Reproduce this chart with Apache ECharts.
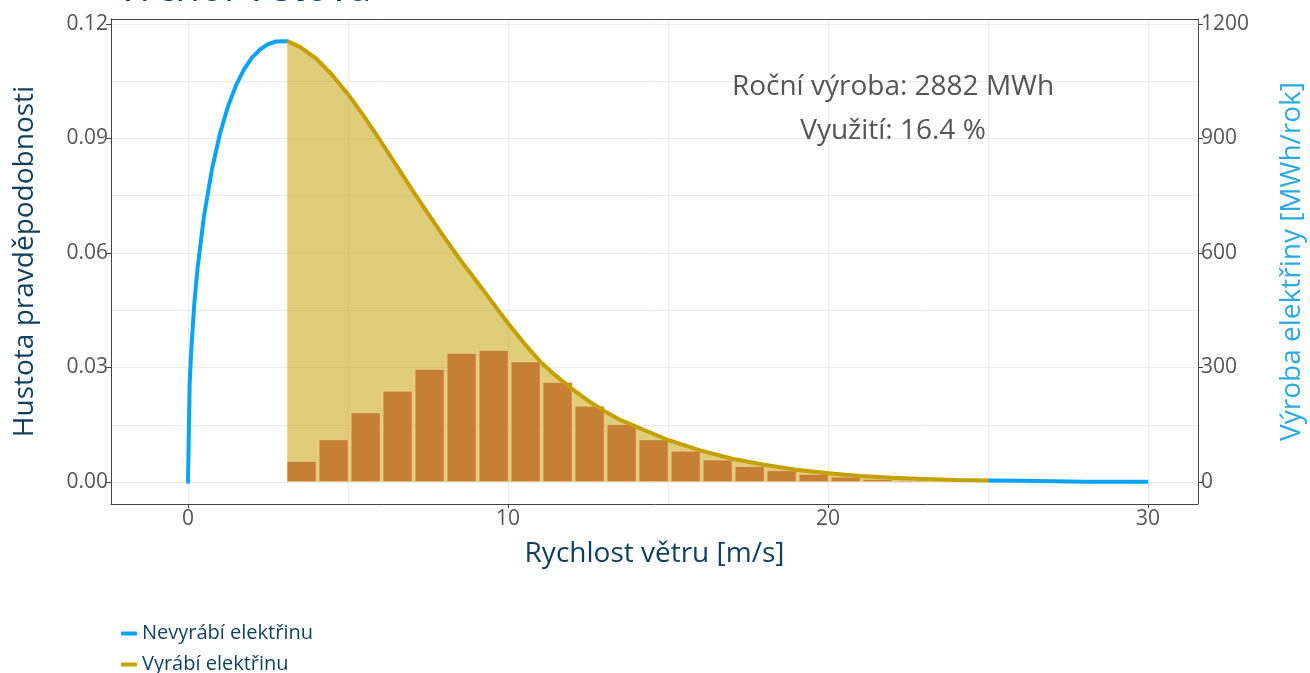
<!DOCTYPE html>
<html>
<head>
<meta charset="utf-8">
<script src="https://cdn.jsdelivr.net/npm/echarts@6/dist/echarts.min.js"></script>
<style>html,body{margin:0;padding:0;background:#fff}#c{width:1310px;height:673px}</style>
</head>
<body>
<div id="c"></div>
<script>
// wind speed [m/s] and probability density
const windIdleLow = [0,0.05,0.1,0.2,0.3,0.5,0.75,1,1.25,1.5,1.75,2,2.25,2.5,2.75,3,3.1];
const densIdleLow = [0,0.0253,0.0345,0.0470,0.0561,0.0697,0.0820,0.0913,0.0984,0.1039,0.1081,0.1112,0.1133,0.1147,0.1154,0.1155,0.1155];
const windProd = [3.1,3.5,4,4.5,5,5.5,6,6.5,7,7.5,8,8.5,9,9.5,10,10.5,11,11.5,12,12.5,13,13.5,14,15,16,17,18,19,20,21,22,23,24,25];
const densProd = [0.1155,0.1140,0.1110,0.1067,0.1016,0.0958,0.0896,0.0831,0.0766,0.0703,0.0642,0.0583,0.0528,0.0472,0.0416,0.0364,0.0316,0.0278,0.0244,0.0213,0.0186,0.0163,0.0145,0.0110,0.0083,0.0061,0.0045,0.0032,0.0023,0.0016,0.0011,0.0008,0.0005,0.0004];
const windIdleHigh = [25,26,27,28,29,30];
const densIdleHigh = [0.0004,0.0003,0.0002,0.0001,0.0001,0.0001];
// annual production per 1 m/s bin [MWh/rok]
const binCenters = [3.55,4.55,5.55,6.55,7.55,8.55,9.55,10.55,11.55,12.55,13.55,14.55,15.55,16.55,17.55,18.55,19.55,20.55,21.55,22.55,23.55,24.55];
const binEnergy = [55,112,183,239,296,338,346,316,262,200,152,112,82,59,42,31,21,14,8,5,3,2];
// ticks
const xLabelTicks = [0,10,20,30];
const xGridTicks = [0,5,10,15,20,25,30];
const yLeftTicks = [0,0.03,0.06,0.09,0.12];
const yLeftGrid = [0,0.015,0.03,0.045,0.06,0.075,0.09,0.105,0.12];
const yRightTicks = [0,300,600,900,1200];
const titleText = 'Vrchol Větová';
const annotLines = ['Roční výroba: 2882 MWh', 'Využití: 16.4 %'];

const zip = (a, b) => a.map((v, i) => [v, b[i]]);
const FONT = "'Open Sans', sans-serif";
const NAVY = '#0f3f5a';
const BLUE = '#0ba4f4';
const GOLD = '#c4a000';
const XMIN = -2.406, XMAX = 31.56, YMIN = -0.00576, YMAX = 0.1213;

const chart = echarts.init(document.getElementById('c'), null, {renderer: 'canvas'});
chart.setOption({
  animation: false,
  backgroundColor: '#fff',
  textStyle: {fontFamily: FONT},
  grid: {left: 111, right: 112, top: 19, bottom: 169, containLabel: false, outerBoundsMode: 'none'},
  graphic: [
    {type: 'text', left: 116, top: -30, style: {text: titleText, font: "40px 'Open Sans', sans-serif", fill: NAVY}},
    {type: 'text', x: 893, y: 87, style: {text: annotLines[0], font: "28px 'Open Sans', sans-serif", fill: '#555', align: 'center', verticalAlign: 'middle'}, z: 100},
    {type: 'text', x: 893, y: 131, style: {text: annotLines[1], font: "28px 'Open Sans', sans-serif", fill: '#555', align: 'center', verticalAlign: 'middle'}, z: 100}
  ],
  legend: {
    data: ['Nevyrábí elektřinu', 'Vyrábí elektřinu'],
    orient: 'vertical', left: 116, top: 617, height: 120, itemGap: 8,
    icon: 'roundRect', itemWidth: 16, itemHeight: 4,
    textStyle: {fontSize: 20, color: NAVY, fontFamily: FONT, lineHeight: 23}
  },
  xAxis: [
    {type: 'value', position: 'bottom', min: XMIN, max: XMAX,
     name: 'Rychlost větru [m/s]', nameLocation: 'middle', nameGap: 36,
     nameTextStyle: {fontSize: 28, color: NAVY},
     axisLine: {show: true, onZero: false, lineStyle: {color: '#444', width: 1}},
     axisTick: {show: true, length: 4, customValues: xLabelTicks, lineStyle: {color: '#444'}},
     axisLabel: {customValues: xLabelTicks, fontSize: 21, color: '#555', margin: 5},
     splitLine: {show: false}},
    {type: 'value', position: 'top', min: XMIN, max: XMAX,
     axisLine: {show: true, onZero: false, lineStyle: {color: '#444', width: 1}},
     axisTick: {show: false, customValues: xGridTicks},
     axisLabel: {show: false},
     splitLine: {show: true, lineStyle: {color: '#ebebeb', width: 1}}}
  ],
  yAxis: [
    {type: 'value', position: 'left', min: YMIN, max: YMAX,
     name: 'Hustota pravděpodobnosti', nameLocation: 'middle', nameGap: 72, nameRotate: 90,
     nameTextStyle: {fontSize: 28, color: NAVY},
     axisLine: {show: true, onZero: false, lineStyle: {color: '#444', width: 1}},
     axisTick: {show: true, length: 5, customValues: yLeftTicks, lineStyle: {color: '#444'}},
     axisLabel: {customValues: yLeftTicks, fontSize: 21, color: '#555', margin: 3, formatter: v => v.toFixed(2)},
     splitLine: {show: false}},
    {type: 'value', position: 'right', min: YMIN * 10000, max: YMAX * 10000,
     name: 'Výroba elektřiny [MWh/rok]', nameLocation: 'middle', nameGap: 80, nameRotate: 90,
     nameTextStyle: {fontSize: 28, color: '#29abe2'},
     axisLine: {show: true, onZero: false, lineStyle: {color: '#444', width: 1}},
     axisTick: {show: true, length: 5, customValues: yRightTicks, lineStyle: {color: '#444'}},
     axisLabel: {customValues: yRightTicks, fontSize: 21, color: '#555', margin: 3, formatter: v => String(Math.round(v))},
     splitLine: {show: false}},
    {type: 'value', position: 'left', min: YMIN, max: YMAX,
     axisLine: {show: false}, axisTick: {show: false, customValues: yLeftGrid}, axisLabel: {show: false},
     splitLine: {show: true, lineStyle: {color: '#ebebeb', width: 1}}}
  ],
  series: [
    {name: 'fill', type: 'line', xAxisIndex: 0, yAxisIndex: 0, data: zip(windProd, densProd),
     symbol: 'none', lineStyle: {width: 0, color: GOLD}, itemStyle: {color: GOLD},
     areaStyle: {color: GOLD, opacity: 0.52, origin: 0}, z: 1, silent: true},
    {name: 'energy', type: 'bar', xAxisIndex: 0, yAxisIndex: 1, data: zip(binCenters, binEnergy),
     barWidth: 30, itemStyle: {color: '#c77f36', borderColor: 'rgba(255,250,215,0.35)', borderWidth: 1}, z: 2},
    {name: 'Nevyrábí elektřinu', type: 'line', xAxisIndex: 0, yAxisIndex: 0, data: zip(windIdleLow, densIdleLow),
     symbol: 'none', lineStyle: {width: 4, color: BLUE, join: 'round', cap: 'round'}, itemStyle: {color: BLUE}, z: 3},
    {name: 'Nevyrábí elektřinu', type: 'line', xAxisIndex: 0, yAxisIndex: 0, data: zip(windIdleHigh, densIdleHigh),
     symbol: 'none', lineStyle: {width: 4, color: BLUE}, itemStyle: {color: BLUE}, z: 3},
    {name: 'Vyrábí elektřinu', type: 'line', xAxisIndex: 0, yAxisIndex: 0, data: zip(windProd, densProd),
     symbol: 'none', lineStyle: {width: 4, color: GOLD, join: 'round'}, itemStyle: {color: GOLD}, z: 3}
  ]
});
</script>
</body>
</html>
